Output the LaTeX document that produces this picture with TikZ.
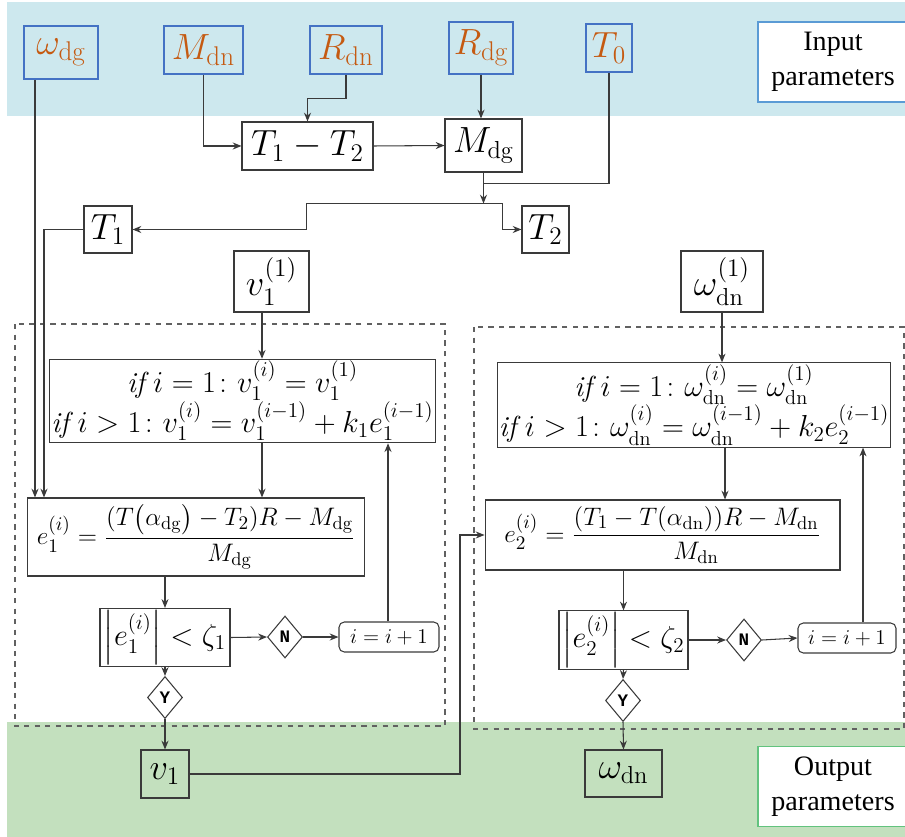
\documentclass[tikz,border=0pt]{standalone}
\usepackage{amsmath}
\usepackage{fontspec}
\usetikzlibrary{arrows.meta,shapes.geometric,calc}
\newfontfamily\capfont{Liberation Serif}
\newfontfamily\ynfont{Liberation Mono}
\definecolor{bandblue}{HTML}{CDE8EE}
\definecolor{bandgreen}{HTML}{C3E0BE}
\definecolor{inblue}{HTML}{4472C4}
\definecolor{inorange}{HTML}{C55A11}
\definecolor{lineg}{HTML}{3A3A3A}
\definecolor{capblue}{HTML}{5B9BD5}
\definecolor{capgreen}{HTML}{62C37E}

\tikzset{
  arr/.style={-{Stealth[length=5pt,width=4pt]}, draw=lineg, line width=0.6pt},
  inbox/.style={draw=inblue, line width=1pt, text=inorange, inner sep=0pt, font=\fontsize{22}{26}\selectfont},
  blk/.style={draw=lineg, line width=0.6pt, inner sep=1pt, font=\fontsize{20}{24}\selectfont},
  eqbox/.style={blk, align=center, font=\fontsize{16.5}{23}\selectfont},
  fracbox/.style={blk, font=\fontsize{15}{18}\selectfont},
  absbox/.style={blk, font=\fontsize{18}{22}\selectfont},
  incbox/.style={blk, rounded corners=3pt, minimum width=2cm, minimum height=0.6cm, font=\fontsize{13}{15}\selectfont},
  yn/.style={diamond, draw=lineg, line width=0.6pt, inner sep=0pt, minimum width=0.7cm, minimum height=0.84cm, font=\ynfont\bfseries\fontsize{10}{12}\selectfont},
  capbox/.style={fill=white, line width=0.8pt, align=center, minimum width=3cm, minimum height=1.6cm, font=\capfont\fontsize{16}{20}\selectfont},
  loopbox/.style={draw=lineg!80, dashed, line width=0.6pt},
}

\begin{document}
\begin{tikzpicture}[x=0.02cm, y=-0.02cm]
  \useasboundingbox (0,0) rectangle (905,837);
  \fill[bandblue] (7,2) rectangle (905,116);
  \fill[bandgreen] (7,722) rectangle (905,837);
  \draw[loopbox] (15,324) rectangle (445,726);
  \draw[loopbox] (474,327) rectangle (904,729);

  % inputs
  \node[inbox, minimum width=1.48cm, minimum height=1.06cm] (wdg) at (61,52.5) {$\omega_{\mathrm{dg}}$};
  \node[inbox, minimum width=1.58cm, minimum height=0.96cm] (Mdn) at (203.5,50) {$M_{\mathrm{dn}}$};
  \node[inbox, minimum width=1.44cm, minimum height=0.96cm] (Rdn) at (346,50) {$R_{\mathrm{dn}}$};
  \node[inbox, minimum width=1.28cm, minimum height=1.04cm] (Rdg) at (481,48) {$R_{\mathrm{dg}}$};
  \node[inbox, minimum width=0.92cm, minimum height=0.96cm] (T0) at (609,48) {$T_0$};
  \node[capbox, draw=capblue] (inlbl) at (833,62) {Input\\parameters};

  \node[blk, minimum width=2.62cm, minimum height=0.96cm] (T12) at (307.5,146) {$T_1-T_2$};
  \node[blk, minimum width=1.54cm, minimum height=1.06cm] (Mdg) at (483.5,145.5) {$M_{\mathrm{dg}}$};
  \node[blk, minimum width=0.96cm, minimum height=0.94cm] (T1) at (108,229.5) {$T_1$};
  \node[blk, minimum width=0.94cm, minimum height=0.94cm] (T2) at (545.5,229.5) {$T_2$};
  \node[blk, minimum width=1.5cm, minimum height=1.22cm] (v11) at (271.5,281.5) {$v_1^{(1)}$};
  \node[blk, minimum width=1.64cm, minimum height=1.22cm] (wdn1) at (722,281.5) {$\omega_{\mathrm{dn}}^{(1)}$};

  % left loop
  \node[eqbox, minimum width=7.58cm, minimum height=1.64cm] (if1) at (242.5,401)
    {$\mathit{if}\ i=1\colon v_1^{(i)}=v_1^{(1)}$\\$\mathit{if}\ i>1\colon v_1^{(i)}=v_1^{(i-1)}+k_1e_1^{(i-1)}$};
  \node[fracbox, minimum width=6.76cm, minimum height=1.56cm] (e1) at (196,537)
    {$e_1^{(i)}=\dfrac{(T\bigl(\alpha_{\mathrm{dg}}\bigr)-T_2)R-M_{\mathrm{dg}}}{M_{\mathrm{dg}}}$};
  \node[absbox, minimum width=2.6cm, minimum height=1.06cm] (abs1) at (165,637.5) {$\left|e_1^{(i)}\right|<\zeta_1$};
  \node[yn] (N1) at (285,637) {N};
  \node[incbox] (inc1) at (389,637) {$i=i+1$};
  \node[yn] (Y1) at (165,697.5) {Y};
  \node[blk, minimum width=0.96cm, minimum height=0.96cm] (v1) at (165,774) {$v_1$};

  % right loop
  \node[eqbox, minimum width=7.84cm, minimum height=1.68cm] (if2) at (694,405)
    {$\mathit{if}\ i=1\colon \omega_{\mathrm{dn}}^{(i)}=\omega_{\mathrm{dn}}^{(1)}$\\$\mathit{if}\ i>1\colon \omega_{\mathrm{dn}}^{(i)}=\omega_{\mathrm{dn}}^{(i-1)}+k_2e_2^{(i-1)}$};
  \node[fracbox, minimum width=7.1cm, minimum height=1.4cm] (e2) at (662.5,535)
    {$e_2^{(i)}=\dfrac{(T_1-T(\alpha_{\mathrm{dn}}))R-M_{\mathrm{dn}}}{M_{\mathrm{dn}}}$};
  \node[absbox, minimum width=2.58cm, minimum height=1.08cm] (abs2) at (623.5,640) {$\left|e_2^{(i)}\right|<\zeta_2$};
  \node[yn] (N2) at (744,640) {N};
  \node[incbox, minimum width=1.96cm] (inc2) at (847,638) {$i=i+1$};
  \node[yn] (Y2) at (623,700.5) {Y};
  \node[blk, minimum width=1.54cm, minimum height=0.94cm] (wdn) at (623.5,773.5) {$\omega_{\mathrm{dn}}$};
  \node[capbox, draw=capgreen] (outlbl) at (833,786.5) {Output\\parameters};

  \coordinate (cw) at (35,0);
  \coordinate (ct) at (44,0);
  \coordinate (cv) at (262,0);
  \coordinate (cr1) at (388,0);
  \coordinate (cj) at (460,0);
  \coordinate (cw2) at (725,0);
  \coordinate (cr2) at (863,0);
  \coordinate (jn) at ($(Mdg.south)+(0,11)$);
  \coordinate (spl) at ($(Mdg.south)+(0,31)$);

  \draw[arr] (Mdn.south) |- (T12.west);
  \draw[arr] (Rdn.south) -- ++(0,24) -| (T12.north);
  \draw[arr] (Rdg.south) -- (Rdg.south |- Mdg.north);
  \draw[arr] (T12.east) -- (Mdg.west);
  \draw[draw=lineg, line width=0.6pt] (T0.south) |- (jn);
  \draw[arr] (Mdg.south) -- (spl);
  \draw[arr] (spl) -- ++(-177,0) |- (T1.east);
  \draw[arr] (spl) -- ++(19,0) |- (T2.west);

  \draw[arr] (wdg.south -| cw) -- (e1.north -| cw);
  \draw[arr] (T1.west) -| (e1.north -| ct);
  \draw[arr] (v11.south -| cv) -- (if1.north -| cv);
  \draw[arr] (if1.south -| cv) -- (e1.north -| cv);
  \draw[arr] (e1.south -| abs1) -- (abs1.north);
  \draw[arr] (abs1.east) -- (N1.west);
  \draw[arr] (N1.east) -- (inc1.west);
  \draw[arr] (inc1.north -| cr1) -- (if1.south -| cr1);
  \draw[arr] (abs1.south) -- (Y1.north);
  \draw[arr] (Y1.south) -- (v1.north);
  \draw[arr] (v1.east) -| (cj |- e2.west) -- (e2.west);

  \draw[arr] (wdn1.south) -- (wdn1.south |- if2.north);
  \draw[arr] (if2.south -| cw2) -- (e2.north -| cw2);
  \draw[arr] (e2.south -| abs2) -- (abs2.north);
  \draw[arr] (abs2.east) -- (N2.west);
  \draw[arr] (N2.east) -- (inc2.west);
  \draw[arr] (inc2.north -| cr2) -- (if2.south -| cr2);
  \draw[arr] (abs2.south) -- (Y2.north);
  \draw[arr] (Y2.south) -- (wdn.north);
\end{tikzpicture}
\end{document}
